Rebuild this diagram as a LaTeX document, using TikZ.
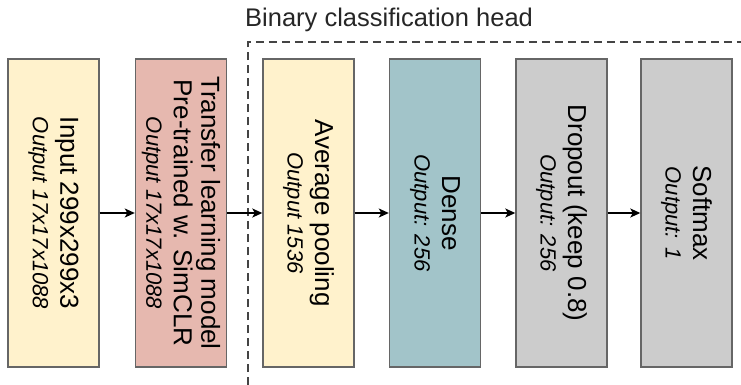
\documentclass[tikz,border=0pt]{standalone}
\usepackage{fontspec}
\setmainfont{Liberation Sans}
\usetikzlibrary{arrows.meta}
\definecolor{cyellow}{HTML}{FFF2CC}
\definecolor{cpink}{HTML}{E6B8AF}
\definecolor{cteal}{HTML}{A2C4C9}
\definecolor{cgrey}{HTML}{CCCCCC}
\definecolor{cborder}{HTML}{666666}
\definecolor{cdash}{HTML}{444444}
\newcommand\layerout[1]{{\fontsize{22}{24}\selectfont\itshape #1}}
\begin{document}
\begin{tikzpicture}[x=1pt,y=1pt,
  layerbox/.style={draw=cborder, line width=1.4pt, rotate=-90,
    minimum width=308pt, minimum height=91pt, align=center, inner sep=0pt,
    font=\fontsize{26}{27.5}\selectfont},
  flow/.style={line width=1.4pt, -{Stealth[length=10pt,width=9pt,inset=2.5pt]}},
  headframe/.style={draw=cdash, line width=1.4pt, dash pattern=on 8pt off 5pt}]
\useasboundingbox (0,0) rectangle (741,384);
\draw[headframe] (248,-1.2) rectangle (760,342);
\node[anchor=base west, font=\fontsize{25.5}{28}\selectfont, inner sep=0pt, text=black!85] (title) at (245,357) {Binary classification head};
\node[layerbox, fill=cyellow] (b1) at (53.5,171) {Input 299x299x3\\ \layerout{Output 17x17x1088}};
\node[layerbox, fill=cpink] (b2) at (181,171) {Transfer learning model\\ Pre-trained w. SimCLR\\ \layerout{Output 17x17x1088}};
\node[layerbox, fill=cyellow] (b3) at (308.5,171) {Average pooling\\ \layerout{Output 1536}};
\node[layerbox, fill=cteal] (b4) at (435,171) {Dense\\ \layerout{Output: 256}};
\node[layerbox, fill=cgrey] (b5) at (561.5,171) {Dropout (keep 0.8)\\ \layerout{Output: 256}};
\node[layerbox, fill=cgrey] (b6) at (686.5,171) {Softmax\\ \layerout{Output: 1}};
\draw[flow] (b1.north) -- (b2.south);
\draw[flow] (b2.north) -- (b3.south);
\draw[flow] (b3.north) -- (b4.south);
\draw[flow] (b4.north) -- (b5.south);
\draw[flow] (b5.north) -- (b6.south);
\end{tikzpicture}
\end{document}
